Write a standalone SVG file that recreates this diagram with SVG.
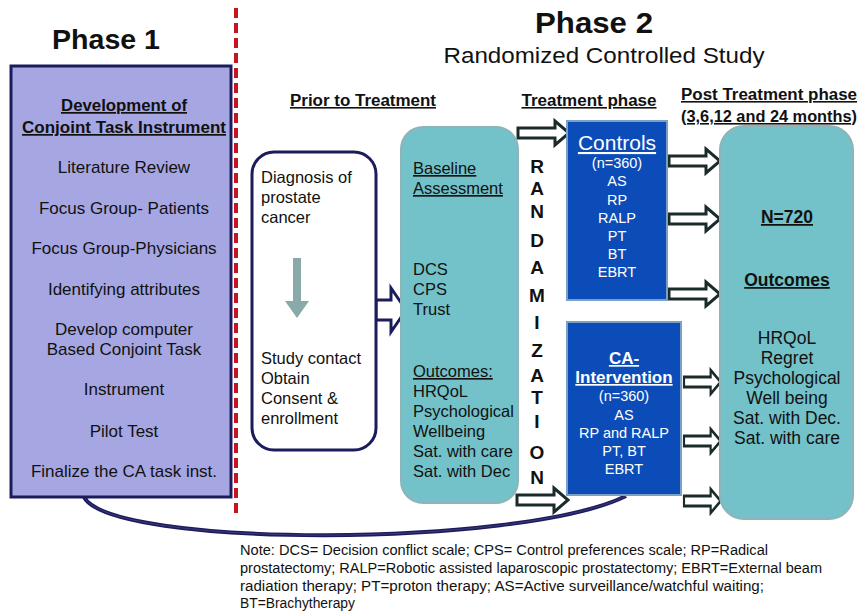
<svg xmlns="http://www.w3.org/2000/svg" width="859" height="611" viewBox="0 0 859 611">
<style>
text{font-family:"Liberation Sans",Arial,sans-serif;fill:#111;}
.b{font-weight:bold;}
.u{text-decoration:underline;}
.p1{font-size:17px;text-anchor:middle;}
.t16{font-size:16.5px;}
.w{fill:#fff;text-anchor:middle;font-size:14.5px;}
.wh{font-size:17px;font-weight:bold;text-decoration:underline;}
.ctl{font-size:21px;text-decoration:underline;}
.oc{font-size:17.5px;text-anchor:middle;}
.note{font-size:14px;}
.ha{fill:#fff;stroke:#1b2a2a;stroke-width:3;stroke-linejoin:miter;}
.rl{font-size:19px;font-weight:bold;text-anchor:middle;}
</style>
<defs>
<polygon id="harrow" points="0,-5 37,-5 37,-12 51,0 37,12 37,5 0,5"/>
</defs>
<rect width="859" height="611" fill="#fff"/>

<line x1="236" y1="8" x2="236" y2="516" stroke="#c8141e" stroke-width="4" stroke-dasharray="10,5"/>

<text class="b" x="106" y="49" font-size="28" text-anchor="middle" textLength="108" lengthAdjust="spacingAndGlyphs">Phase 1</text>
<text class="b" x="594" y="33" font-size="29" text-anchor="middle" textLength="118" lengthAdjust="spacingAndGlyphs">Phase 2</text>
<text x="604" y="63" font-size="22" text-anchor="middle" textLength="321" lengthAdjust="spacingAndGlyphs">Randomized Controlled Study</text>

<text class="b u" x="363" y="106" font-size="16" text-anchor="middle" textLength="146" lengthAdjust="spacingAndGlyphs">Prior to Treatment</text>
<text class="b u" x="589" y="106" font-size="16" text-anchor="middle" textLength="135" lengthAdjust="spacingAndGlyphs">Treatment phase</text>
<text class="b u" x="769" y="100" font-size="16" text-anchor="middle" textLength="176" lengthAdjust="spacingAndGlyphs">Post Treatment phase</text>
<text class="b u" x="769" y="122" font-size="16" text-anchor="middle" textLength="176" lengthAdjust="spacingAndGlyphs">(3,6,12 and 24 months)</text>

<g id="connectors">
<path d="M 84 497 C 110 548, 520 548, 626 496" fill="none" stroke="#1c1c5c" stroke-width="4"/>
<path d="M 84 497 C 110 548, 520 548, 626 496" fill="none" stroke="#3a3a80" stroke-width="1"/>
<polygon points="376,300 391,300 391,288 406,310 391,332 391,320 376,320" fill="#fff" stroke="#1c1c5c" stroke-width="3"/>
<use href="#harrow" class="ha" transform="translate(518,133)"/>
<use href="#harrow" class="ha" transform="translate(517,500)"/>
<use href="#harrow" class="ha" transform="translate(669,161)"/>
<use href="#harrow" class="ha" transform="translate(669,219)"/>
<use href="#harrow" class="ha" transform="translate(669,294)"/>
<use href="#harrow" class="ha" transform="translate(684,382) scale(0.72,1)"/>
<use href="#harrow" class="ha" transform="translate(684,441) scale(0.72,1)"/>
<use href="#harrow" class="ha" transform="translate(684,501) scale(0.72,1)"/>
</g>

<g id="phase1">
<rect x="11" y="66" width="220" height="431" fill="#a6a6e2" stroke="#1c1c5c" stroke-width="3"/>
<text class="p1 b u" x="124" y="111" textLength="126" lengthAdjust="spacingAndGlyphs">Development of</text>
<text class="p1 b u" x="124" y="133" textLength="204" lengthAdjust="spacingAndGlyphs">Conjoint Task Instrument</text>
<text class="p1" x="124" y="173">Literature Review</text>
<text class="p1" x="124" y="214">Focus Group- Patients</text>
<text class="p1" x="124" y="254">Focus Group-Physicians</text>
<text class="p1" x="124" y="295">Identifying attributes</text>
<text class="p1" x="124" y="335">Develop computer</text>
<text class="p1" x="124" y="355">Based Conjoint Task</text>
<text class="p1" x="124" y="395">Instrument</text>
<text class="p1" x="124" y="437">Pilot Test</text>
<text class="p1" x="124" y="477">Finalize the CA task inst.</text>
</g>

<g id="diagnosis">
<rect x="252" y="152" width="124" height="298" rx="22" fill="#fff" stroke="#1c1c5c" stroke-width="3"/>
<text class="t16" x="261" y="183">Diagnosis of</text>
<text class="t16" x="261" y="203">prostate</text>
<text class="t16" x="261" y="223">cancer</text>
<polygon points="293,258 301,258 301,301 309,301 297,318 285,301 293,301" fill="#8aa9a9"/>
<text class="t16" x="261" y="364">Study contact</text>
<text class="t16" x="261" y="384">Obtain</text>
<text class="t16" x="261" y="404">Consent &amp;</text>
<text class="t16" x="261" y="424">enrollment</text>
</g>

<g id="baseline">
<rect x="401" y="127" width="117" height="376" rx="22" fill="#73c1c9" stroke="#8fb4b8" stroke-width="2"/>
<text class="t16 u" x="413" y="174">Baseline</text>
<text class="t16 u" x="413" y="194">Assessment</text>
<text class="t16" x="413" y="275">DCS</text>
<text class="t16" x="413" y="295">CPS</text>
<text class="t16" x="413" y="315">Trust</text>
<text class="t16 u" x="413" y="377">Outcomes:</text>
<text class="t16" x="413" y="397">HRQoL</text>
<text class="t16" x="413" y="417">Psychological</text>
<text class="t16" x="413" y="437">Wellbeing</text>
<text class="t16" x="413" y="457">Sat. with care</text>
<text class="t16" x="413" y="477">Sat. with Dec</text>
</g>

<g id="randomization">
<text class="rl" x="537" y="173">R</text>
<text class="rl" x="537" y="195">A</text>
<text class="rl" x="537" y="218">N</text>
<text class="rl" x="537" y="247">D</text>
<text class="rl" x="537" y="274">A</text>
<text class="rl" x="537" y="302">M</text>
<text class="rl" x="537" y="329">I</text>
<text class="rl" x="537" y="357">Z</text>
<text class="rl" x="537" y="382">A</text>
<text class="rl" x="537" y="404">T</text>
<text class="rl" x="537" y="428">I</text>
<text class="rl" x="537" y="459">O</text>
<text class="rl" x="537" y="484">N</text>
</g>

<g id="controls">
<rect x="567" y="121" width="100" height="179" fill="#0b4cb9" stroke="#7c9fc4" stroke-width="2"/>
<text class="w ctl" x="617" y="150">Controls</text>
<text class="w" x="617" y="168">(n=360)</text>
<text class="w" x="617" y="186">AS</text>
<text class="w" x="617" y="205">RP</text>
<text class="w" x="617" y="223">RALP</text>
<text class="w" x="617" y="241">PT</text>
<text class="w" x="617" y="259">BT</text>
<text class="w" x="617" y="277">EBRT</text>
</g>

<g id="intervention">
<rect x="567" y="322" width="114" height="173" fill="#0b4cb9" stroke="#7c9fc4" stroke-width="2"/>
<text class="w wh" x="624" y="364">CA-</text>
<text class="w wh" x="624" y="383">Intervention</text>
<text class="w" x="624" y="401">(n=360)</text>
<text class="w" x="624" y="420">AS</text>
<text class="w" x="624" y="438">RP and RALP</text>
<text class="w" x="624" y="456">PT, BT</text>
<text class="w" x="624" y="474">EBRT</text>
</g>

<g id="outcomes">
<rect x="720" y="126" width="133" height="393" rx="24" fill="#73c1c9" stroke="#8fb4b8" stroke-width="2"/>
<text class="oc b u" x="787" y="223">N=720</text>
<text class="oc b u" x="787" y="286">Outcomes</text>
<text class="oc" x="787" y="344">HRQoL</text>
<text class="oc" x="787" y="364">Regret</text>
<text class="oc" x="787" y="384">Psychological</text>
<text class="oc" x="787" y="404">Well being</text>
<text class="oc" x="787" y="424">Sat. with Dec.</text>
<text class="oc" x="787" y="444">Sat. with care</text>
</g>

<g id="note">
<text class="note" x="240" y="555" textLength="528" lengthAdjust="spacingAndGlyphs">Note: DCS= Decision conflict scale; CPS= Control preferences scale; RP=Radical</text>
<text class="note" x="240" y="573" textLength="582" lengthAdjust="spacingAndGlyphs">prostatectomy;  RALP=Robotic  assisted laparoscopic prostatectomy;  EBRT=External  beam</text>
<text class="note" x="240" y="591" textLength="524" lengthAdjust="spacingAndGlyphs">radiation therapy;  PT=proton therapy; AS=Active surveillance/watchful  waiting;</text>
<text class="note" x="240" y="608" textLength="115" lengthAdjust="spacingAndGlyphs">BT=Brachytherapy</text>
</g>
</svg>
